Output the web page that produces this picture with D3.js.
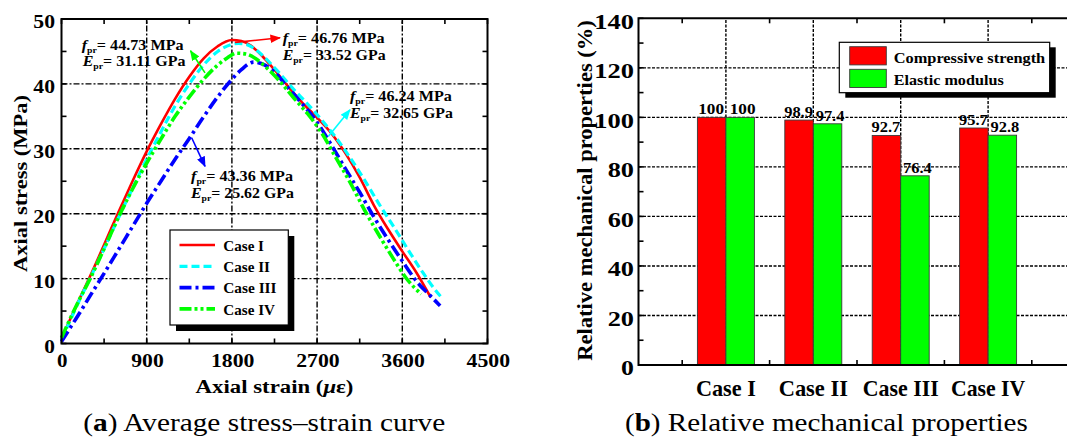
<!DOCTYPE html>
<html>
<head>
<meta charset="utf-8">
<script src="https://cdn.jsdelivr.net/npm/d3@7"></script>
<style>
  body { margin: 0; background: #fff; }
  svg { display: block; }
  svg text { font-family: "Liberation Serif", Tinos, "Times New Roman", serif; }
</style>
</head>
<body>
<svg id="fig" width="1067" height="441"></svg>
<script>
// ---------- (a) average stress–strain curves: [strain (με), stress (MPa)] ----------
const caseNames = ["Case I", "Case II", "Case III", "Case IV"];

const caseI = [
  [0, 0.8], [100, 4.0], [200, 7.2], [300, 10.3], [450, 15.2], [600, 20.2], [750, 25.0],
  [900, 29.6], [1050, 33.8], [1200, 37.7], [1350, 41.1], [1500, 43.9], [1650, 45.8],
  [1800, 46.76], [1900, 46.6], [2000, 45.9], [2100, 44.6], [2200, 43.0], [2300, 41.3],
  [2400, 39.5], [2550, 37.0], [2700, 34.8], [2850, 32.4], [3000, 29.3], [3150, 25.6],
  [3300, 21.3], [3450, 17.6], [3600, 14.2], [3750, 10.9], [3900, 7.1]
];
const caseII = [
  [0, 0.6], [100, 3.8], [200, 7.0], [300, 10.0], [450, 14.6], [600, 19.3], [750, 23.9],
  [900, 28.4], [1050, 32.6], [1200, 36.6], [1350, 40.0], [1500, 42.9], [1650, 45.0],
  [1800, 46.1], [1870, 46.24], [1950, 46.1], [2050, 45.3], [2150, 44.0], [2300, 41.7],
  [2450, 39.2], [2600, 36.9], [2750, 34.4], [2900, 31.7], [3050, 28.6], [3200, 25.2],
  [3350, 21.6], [3500, 18.2], [3650, 14.7], [3800, 11.3], [3950, 8.2], [4020, 7.0]
];
const caseIII = [
  [0, 0.3], [100, 2.6], [200, 4.9], [300, 7.3], [450, 10.8], [600, 14.4], [750, 18.0],
  [900, 21.6], [1050, 25.0], [1200, 28.4], [1350, 31.6], [1500, 34.9], [1650, 38.0],
  [1800, 40.7], [1900, 42.2], [2030, 43.36], [2150, 42.9], [2250, 41.8], [2400, 39.3],
  [2550, 36.8], [2700, 34.1], [2850, 30.6], [3000, 26.9], [3150, 23.3], [3300, 19.5],
  [3450, 16.0], [3600, 12.7], [3750, 9.6], [3900, 7.3], [4000, 5.8]
];
const caseIV = [
  [0, 0.9], [100, 4.1], [200, 7.1], [300, 9.9], [450, 14.6], [600, 19.4], [750, 23.8],
  [900, 27.8], [1050, 31.5], [1200, 35.0], [1350, 38.0], [1500, 40.7], [1650, 42.9],
  [1750, 44.0], [1850, 44.73], [1950, 44.6], [2050, 43.9], [2150, 42.7], [2300, 40.5],
  [2450, 37.9], [2600, 35.4], [2750, 32.4], [2900, 28.6], [3050, 24.8], [3200, 20.6],
  [3350, 16.8], [3500, 13.2], [3650, 9.9], [3800, 7.6]
];

const peakStrength = [46.76, 46.24, 43.36, 44.73];   // f_pr, MPa
const elasticModulus = [33.52, 32.65, 25.62, 31.11]; // E_pr, GPa

const strainTicks = [0, 900, 1800, 2700, 3600, 4500];
const stressTicks = [0, 10, 20, 30, 40, 50];

// ---------- (b) relative mechanical properties (%) ----------
const relStrength = [100, 98.9, 92.7, 95.7];
const relModulus = [100, 97.4, 76.4, 92.8];
const percentTicks = [0, 20, 40, 60, 80, 100, 120, 140];
const seriesNames = ["Compressive strength", "Elastic modulus"];

// ---------- drawing ----------
const svg = d3.select("#fig");
const BOLD = "bold";

// Text helper: places text with translate/rotate and stretches it horizontally
// so that it is exactly `fit` pixels wide (the figure uses wide-set lettering).
function label(parent, o) {
  const t = parent.append("text")
    .attr("font-size", o.size)
    .attr("font-weight", o.weight || BOLD)
    .attr("text-anchor", o.anchor || "start");
  if (o.build) o.build(t); else t.text(o.text);
  let sx = 1;
  if (o.fit) sx = o.fit / t.node().getComputedTextLength();
  t.attr("transform", `translate(${o.x},${o.y}) rotate(${o.rotate || 0}) scale(${sx},1)`);
  return t;
}
// width of a numeric label given digit and point widths
const numWidth = (s, dw, pw) => [...String(s)].reduce((a, ch) => a + (ch === "." ? pw : dw), 0);

const curves = [caseI, caseII, caseIII, caseIV];
const curveStyle = [
  { color: "#ff0000", width: 2.6, dash: null },
  { color: "#00ffff", width: 3.2, dash: "8,4" },
  { color: "#0000ff", width: 3.6, dash: "12,4,3,4" },
  { color: "#00ff00", width: 3.6, dash: "12,3,3,3,3,3" }
];

// ---- panel (a) ----
const xa = d3.scaleLinear().domain([0, 4500]).range([61.5, 487.5]);
const ya = d3.scaleLinear().domain([0, 50]).range([343.5, 19]);
const pa = svg.append("g");

// grid (dash-dot)
pa.append("g").selectAll("line")
  .data(strainTicks.filter(t => t > 0 && t < 4500))
  .join("line")
  .attr("x1", d => xa(d)).attr("x2", d => xa(d))
  .attr("y1", ya(0)).attr("y2", ya(50))
  .attr("stroke", "#000").attr("stroke-width", 1.4).attr("stroke-dasharray", "6,2,2,2");
pa.append("g").selectAll("line")
  .data(stressTicks.filter(t => t > 0 && t < 50))
  .join("line")
  .attr("x1", xa(0)).attr("x2", xa(4500))
  .attr("y1", d => ya(d)).attr("y2", d => ya(d))
  .attr("stroke", "#000").attr("stroke-width", 1.4).attr("stroke-dasharray", "6,2,2,2");

// inward ticks (every 450 με and 5 MPa)
const ticksA = pa.append("g").attr("stroke", "#000").attr("stroke-width", 1.6);
d3.range(0, 4501, 450).forEach(t => {
  ticksA.append("line").attr("x1", xa(t)).attr("x2", xa(t)).attr("y1", ya(0)).attr("y2", ya(0) - 5);
  ticksA.append("line").attr("x1", xa(t)).attr("x2", xa(t)).attr("y1", ya(50)).attr("y2", ya(50) + 5);
});
d3.range(0, 51, 5).forEach(t => {
  ticksA.append("line").attr("x1", xa(0)).attr("x2", xa(0) + 5).attr("y1", ya(t)).attr("y2", ya(t));
  ticksA.append("line").attr("x1", xa(4500)).attr("x2", xa(4500) - 5).attr("y1", ya(t)).attr("y2", ya(t));
});

// curves
const line = d3.line().x(d => xa(d[0])).y(d => ya(d[1])).curve(d3.curveMonotoneX);
curves.forEach((c, i) => {
  pa.append("path").datum(c).attr("d", line)
    .attr("fill", "none")
    .attr("stroke", curveStyle[i].color)
    .attr("stroke-width", curveStyle[i].width)
    .attr("stroke-dasharray", curveStyle[i].dash)
    .attr("stroke-linejoin", "round");
});

// frame
pa.append("rect")
  .attr("x", xa(0)).attr("y", ya(50))
  .attr("width", xa(4500) - xa(0)).attr("height", ya(0) - ya(50))
  .attr("fill", "none").attr("stroke", "#000").attr("stroke-width", 2);

// tick labels
const tickA = pa.append("g");
strainTicks.forEach(d => label(tickA, {
  x: xa(d) + 0.8, y: ya(0) + 23.8, size: 19.5, anchor: "middle", fit: numWidth(d, 11, 4) - 0.5, text: d
}));
stressTicks.forEach(d => label(tickA, {
  x: xa(0) - 6.5, y: ya(d) + 9.1, size: 19.5, anchor: "end", fit: numWidth(d, 11, 4) - 0.3, text: d
}));

// axis titles
label(pa, {
  x: (xa(0) + xa(4500)) / 2, y: 392.7, size: 19.5, anchor: "middle", fit: 158,
  build: t => {
    t.append("tspan").text("Axial strain (");
    t.append("tspan").attr("font-style", "italic").text("μ");
    t.append("tspan").text("ε)");
  }
});
label(pa, { x: 26.5, y: 183.5, rotate: -90, size: 19.5, anchor: "middle", fit: 177, text: "Axial stress (MPa)" });

// arrowheads
const defs = svg.append("defs");
curveStyle.forEach((s, i) => {
  defs.append("marker").attr("id", "ah" + i)
    .attr("viewBox", "0 0 10 8").attr("refX", 9).attr("refY", 4)
    .attr("markerWidth", 11).attr("markerHeight", 8.5)
    .attr("markerUnits", "userSpaceOnUse").attr("orient", "auto")
    .append("path").attr("d", "M0,0 L10,4 L0,8 Z").attr("fill", s.color);
});

// callouts for peak strength and modulus (anchors in strain/stress units)
const callouts = [
  { text: [2336, 46.3], from: [1833, 46.4], to: [2308, 47.1] },
  { text: [3047, 37.3], from: [2818, 31.9], to: [3047, 36.0] },
  { text: [1368, 25.0], from: [1375, 31.7], to: [1516, 27.3] },
  { text: [213, 45.3], from: [1516, 41.7], to: [1363, 45.1] }
];
function calloutLine(x, y, sym, val, unit, w) {
  label(pa, {
    x, y, size: 14, fit: w,
    build: t => {
      t.append("tspan").attr("font-style", "italic").text(sym);
      t.append("tspan").attr("font-size", 8.5).attr("dy", 3).text("pr");
      t.append("tspan").attr("dy", -3).text("= " + val.toFixed(2) + " " + unit);
    }
  });
}
callouts.forEach((c, i) => {
  pa.append("line")
    .attr("x1", xa(c.from[0])).attr("y1", ya(c.from[1]))
    .attr("x2", xa(c.to[0])).attr("y2", ya(c.to[1]))
    .attr("stroke", curveStyle[i].color).attr("stroke-width", 1.6)
    .attr("marker-end", `url(#ah${i})`);
  const tx = xa(c.text[0]), ty = ya(c.text[1]);
  calloutLine(tx, ty, "f", peakStrength[i], "MPa", 102);
  calloutLine(tx + (i === 3 ? 1 : 0), ty + 16.5, "E", elasticModulus[i], "GPa", 103);
});

// legend (a)
const lgA = pa.append("g");
lgA.append("rect").attr("x", 176).attr("y", 236).attr("width", 118.3).attr("height", 95).attr("fill", "#000");
lgA.append("rect").attr("x", 170).attr("y", 230).attr("width", 118.3).attr("height", 95)
  .attr("fill", "#fff").attr("stroke", "#000").attr("stroke-width", 1.2);
const legWidths = [40.7, 46.7, 53.3, 51.7];
caseNames.forEach((n, i) => {
  const yy = 245 + i * 21.3;
  lgA.append("line").attr("x1", 179.5).attr("x2", 215).attr("y1", yy).attr("y2", yy)
    .attr("stroke", curveStyle[i].color).attr("stroke-width", curveStyle[i].width)
    .attr("stroke-dasharray", curveStyle[i].dash);
  label(lgA, { x: 223.3, y: yy + 5.7, size: 15, fit: legWidths[i], text: n });
});

// ---- panel (b) ----
const xb = d3.scaleLinear().domain([0, 5]).range([638.5, 1075.5]);
const yb = d3.scaleLinear().domain([0, 140]).range([365, 18.3]);
const barW = 0.326;
const pb = svg.append("g");

// grid (short dashes)
pb.append("g").selectAll("line").data(percentTicks.filter(t => t > 0 && t < 140)).join("line")
  .attr("x1", xb(0)).attr("x2", xb(5))
  .attr("y1", d => yb(d)).attr("y2", d => yb(d))
  .attr("stroke", "#000").attr("stroke-width", 1.4).attr("stroke-dasharray", "3,1.5");
pb.append("g").selectAll("line").data(caseNames).join("line")
  .attr("x1", (d, i) => xb(i + 1)).attr("x2", (d, i) => xb(i + 1))
  .attr("y1", yb(0)).attr("y2", yb(140))
  .attr("stroke", "#000").attr("stroke-width", 1.4).attr("stroke-dasharray", "3,1.5");

// inward ticks
const ticksB = pb.append("g").attr("stroke", "#000").attr("stroke-width", 1.6);
d3.range(0, 141, 10).forEach(t => {
  ticksB.append("line").attr("x1", xb(0)).attr("x2", xb(0) + 5).attr("y1", yb(t)).attr("y2", yb(t));
});
d3.range(0.5, 5, 1).forEach(t => {
  ticksB.append("line").attr("x1", xb(t)).attr("x2", xb(t)).attr("y1", yb(0)).attr("y2", yb(0) - 5);
  ticksB.append("line").attr("x1", xb(t)).attr("x2", xb(t)).attr("y1", yb(140)).attr("y2", yb(140) + 5);
});

// bars with value labels (modulus labels sit slightly right of their bar centre)
const barsG = pb.append("g");
[[relStrength, "#ff0000", -1, -0.5], [relModulus, "#00ff00", 0, 2.5]].forEach(([vals, col, off, nudge]) => {
  barsG.selectAll(null).data(vals).join("rect")
    .attr("x", (d, i) => xb(i + 1 + off * barW))
    .attr("y", d => yb(d))
    .attr("width", (d, i) => xb(i + 1 + (off + 1) * barW) - xb(i + 1 + off * barW))
    .attr("height", d => yb(0) - yb(d))
    .attr("fill", col).attr("stroke", "#3a3a3a").attr("stroke-width", 0.9);
  vals.forEach((d, i) => label(barsG, {
    x: xb(i + 1 + (off + 0.5) * barW) + nudge, y: yb(d) - 3,
    size: 14.5, anchor: "middle", fit: numWidth(d, 8.6, 3), text: d
  }));
});

// frame (left, bottom, top)
pb.append("path")
  .attr("d", `M${xb(5)},${yb(140)} H${xb(0)} V${yb(0)} H${xb(5)}`)
  .attr("fill", "none").attr("stroke", "#000").attr("stroke-width", 2);

// axis labels
const tickB = pb.append("g");
percentTicks.forEach(d => label(tickB, {
  x: xb(0) - 4.5, y: yb(d) + 10.2, size: 22, anchor: "end", fit: numWidth(d, 13.4, 4) - 0.5, text: d
}));
const catWidths = [60, 69.3, 76, 74.3];
caseNames.forEach((d, i) => label(tickB, { x: xb(i + 1), y: 396, size: 23, anchor: "middle", fit: catWidths[i], text: d }));
label(pb, { x: 592, y: 190.5, rotate: -90, size: 20, anchor: "middle", fit: 341, text: "Relative mechanical properties (%)" });

// legend (b)
const lgB = pb.append("g");
lgB.append("rect").attr("x", 845.3).attr("y", 47.3).attr("width", 210.4).attr("height", 50.4).attr("fill", "#000");
lgB.append("rect").attr("x", 839.3).attr("y", 42.3).attr("width", 210.4).attr("height", 50.4)
  .attr("fill", "#fff").attr("stroke", "#000").attr("stroke-width", 1.2);
const legBWidths = [151.6, 110];
[["#ff0000", 46.7], ["#00ff00", 69.3]].forEach(([col, yy], i) => {
  lgB.append("rect").attr("x", 849.7).attr("y", yy).attr("width", 36.6).attr("height", 18.2)
    .attr("fill", col).attr("stroke", "#3a3a3a").attr("stroke-width", 0.9);
  label(lgB, { x: 893.7, y: yy + 16, size: 15.5, fit: legBWidths[i], text: seriesNames[i] });
});

// captions
function caption(x, width, letter, rest) {
  label(svg, {
    x, y: 431, size: 25, weight: "normal", fit: width,
    build: t => {
      t.append("tspan").text("(");
      t.append("tspan").attr("font-weight", BOLD).text(letter);
      t.append("tspan").text(") " + rest);
    }
  });
}
caption(83.3, 362, "a", "Average stress–strain curve");
caption(625, 403, "b", "Relative mechanical properties");
</script>
</body>
</html>
